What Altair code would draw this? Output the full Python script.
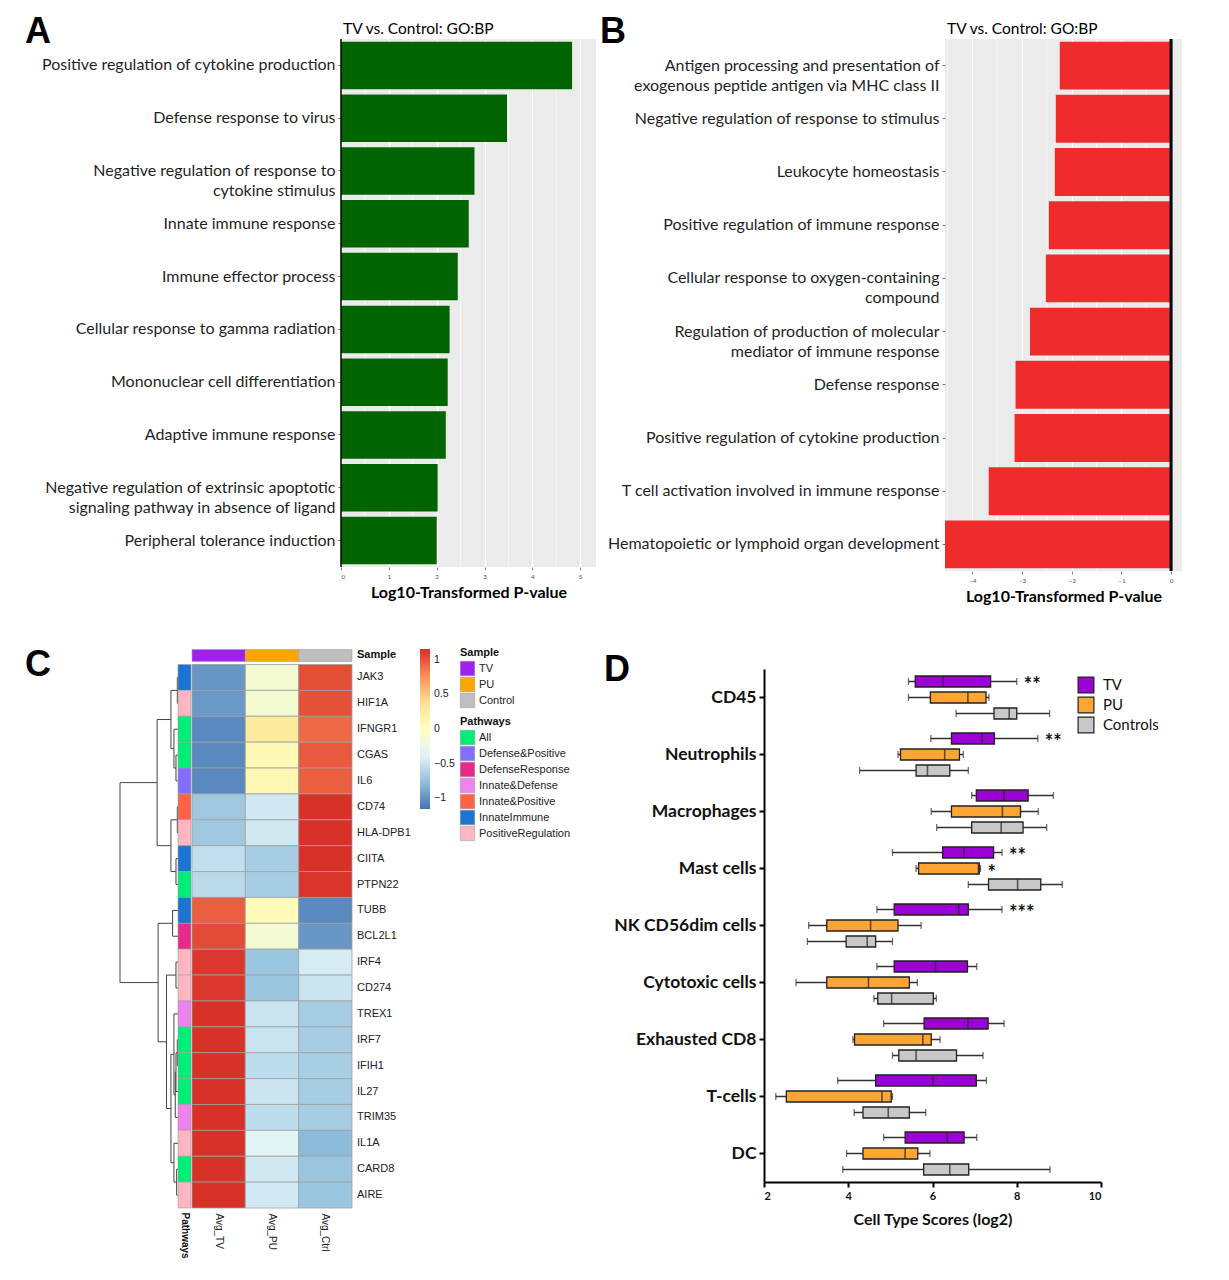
import altair as alt
import pandas as pd

FA = "Lato"
FC = "Liberation Sans"
FL = "Liberation Sans"

# ---------------- Panel A data ----------------
a_terms = [
    "Positive regulation of cytokine production",
    "Defense response to virus",
    "Negative regulation of response to|cytokine stimulus",
    "Innate immune response",
    "Immune effector process",
    "Cellular response to gamma radiation",
    "Mononuclear cell differentiation",
    "Adaptive immune response",
    "Negative regulation of extrinsic apoptotic|signaling pathway in absence of ligand",
    "Peripheral tolerance induction",
]
a_vals = [4.83, 3.47, 2.79, 2.67, 2.44, 2.27, 2.23, 2.19, 2.02, 2.00]
a_ticks = [0, 1, 2, 3, 4, 5]
a_minor = [0.5, 1.5, 2.5, 3.5, 4.5]

# ---------------- Panel B data ----------------
b_terms = [
    "Antigen processing and presentation of|exogenous peptide antigen via MHC class II",
    "Negative regulation of response to stimulus",
    "Leukocyte homeostasis",
    "Positive regulation of immune response",
    "Cellular response to oxygen-containing|compound",
    "Regulation of production of molecular|mediator of immune response",
    "Defense response",
    "Positive regulation of cytokine production",
    "T cell activation involved in immune response",
    "Hematopoietic or lymphoid organ development",
]
b_vals = [-2.24, -2.32, -2.34, -2.46, -2.52, -2.84, -3.13, -3.15, -3.67, -4.55]
b_ticks = [-4, -3, -2, -1, 0]
b_minor = [-4.5, -3.5, -2.5, -1.5, -0.5]
go_title = "TV vs. Control: GO:BP"

# ---------------- Panel C data ----------------
genes = ["JAK3", "HIF1A", "IFNGR1", "CGAS", "IL6", "CD74", "HLA-DPB1", "CIITA", "PTPN22",
         "TUBB", "BCL2L1", "IRF4", "CD274", "TREX1", "IRF7", "IFIH1", "IL27", "TRIM35",
         "IL1A", "CARD8", "AIRE"]
avg_tv = [-0.98, -0.97, -1.05, -1.05, -1.05, -0.70, -0.70, -0.53, -0.57, 0.96, 1.04,
          1.12, 1.12, 1.15, 1.15, 1.15, 1.15, 1.15, 1.15, 1.15, 1.15]
avg_pu = [-0.12, -0.12, 0.25, 0.07, 0.10, -0.47, -0.47, -0.67, -0.67, 0.05, -0.14,
          -0.72, -0.72, -0.49, -0.50, -0.55, -0.49, -0.55, -0.36, -0.47, -0.46]
avg_ctrl = [1.03, 1.02, 0.92, 0.98, 0.96, 1.15, 1.15, 1.15, 1.14, -1.05, -0.98,
            -0.44, -0.49, -0.67, -0.67, -0.66, -0.67, -0.67, -0.79, -0.72, -0.72]
pathway = ["InnateImmune", "PositiveRegulation", "All", "All", "Defense&Positive",
           "Innate&Positive", "PositiveRegulation", "InnateImmune", "All", "InnateImmune",
           "DefenseResponse", "PositiveRegulation", "PositiveRegulation", "Innate&Defense",
           "All", "All", "All", "Innate&Defense", "PositiveRegulation", "All",
           "PositiveRegulation"]
heat_cols = ["Avg_TV", "Avg_PU", "Avg_Ctrl"]
sample_groups = ["TV", "PU", "Control"]
sample_colors = ["#A020F0", "#FFA500", "#BEBEBE"]
pathway_names = ["All", "Defense&Positive", "DefenseResponse", "Innate&Defense",
                 "Innate&Positive", "InnateImmune", "PositiveRegulation"]
pathway_colors = ["#00EE76", "#836FFF", "#E7298A", "#EE82EE", "#FF6347", "#1C74D0", "#FFB6C1"]
heat_domain = [-1.155, -0.77, -0.385, 0.0, 0.385, 0.77, 1.155]
heat_range = ["#4575B4", "#91BFDB", "#E0F3F8", "#FFFFBF", "#FEE090", "#FC8D59", "#D73027"]
heat_legend_values = [-1, -0.5, 0, 0.5, 1]
# dendrogram merges (left, right, height)
dendro_merges = [
    ("JAK3", "HIF1A", 0.012), ("CGAS", "IL6", 0.035), ("IFNGR1", "n2", 0.07),
    ("n1", "n3", 0.122), ("CD74", "HLA-DPB1", 0.012), ("CIITA", "PTPN22", 0.035),
    ("n5", "n6", 0.122), ("n4", "n7", 0.36), ("TUBB", "BCL2L1", 0.093),
    ("IRF4", "CD274", 0.035), ("IRF7", "IFIH1", 0.012), ("n11", "IL27", 0.035),
    ("n12", "TRIM35", 0.047), ("TREX1", "n13", 0.07), ("CARD8", "AIRE", 0.023),
    ("IL1A", "n15", 0.07), ("n14", "n16", 0.122), ("n10", "n17", 0.198),
    ("n9", "n18", 0.343), ("n8", "n19", 1.0),
]

# ---------------- Panel D data ----------------
cell_types = ["CD45", "Neutrophils", "Macrophages", "Mast cells", "NK CD56dim cells",
              "Cytotoxic cells", "Exhausted CD8", "T-cells", "DC"]
groups = ["TV", "PU", "Controls"]
group_colors = ["#9B00D4", "#FFA533", "#C8C8C8"]
tv_min = [5.43, 5.96, 6.93, 5.05, 4.68, 4.68, 4.84, 3.75, 4.84]
tv_q1 = [5.59, 6.45, 7.04, 6.24, 5.09, 5.09, 5.80, 4.65, 5.35]
tv_med = [6.25, 7.18, 7.70, 6.75, 6.62, 6.07, 6.84, 6.01, 6.35]
tv_q3 = [7.38, 7.47, 8.27, 7.45, 6.85, 6.83, 7.32, 7.04, 6.75]
tv_max = [8.00, 8.50, 8.87, 7.65, 7.65, 7.05, 7.70, 7.28, 7.05]
pu_min = [5.43, 5.18, 5.97, 5.61, 3.06, 2.76, 4.11, 2.28, 3.96]
pu_q1 = [5.95, 5.24, 6.45, 5.67, 3.49, 3.49, 4.15, 2.53, 4.35]
pu_med = [6.84, 6.29, 7.66, 7.09, 4.53, 4.48, 5.77, 4.80, 5.35]
pu_q3 = [7.27, 6.64, 8.09, 7.11, 5.18, 5.45, 5.97, 5.02, 5.65]
pu_max = [7.34, 6.73, 8.51, 7.14, 5.73, 5.64, 6.18, 5.05, 5.94]
ct_min = [6.56, 4.27, 6.10, 6.85, 3.03, 4.61, 5.05, 4.14, 3.87]
ct_q1 = [7.46, 5.61, 6.93, 7.33, 3.95, 4.70, 5.20, 4.35, 5.79]
ct_med = [7.82, 5.88, 7.63, 8.02, 4.45, 5.03, 5.61, 4.95, 6.41]
ct_q3 = [8.00, 6.41, 8.15, 8.57, 4.65, 6.02, 6.57, 5.45, 6.86]
ct_max = [8.78, 6.85, 8.71, 9.08, 5.05, 6.09, 7.20, 5.84, 8.79]
star_cells = ["CD45", "Neutrophils", "Mast cells", "Mast cells", "NK CD56dim cells"]
star_groups = ["TV", "TV", "TV", "PU", "TV"]
star_text = ["**", "**", "**", "*", "***"]
d_ticks = [2, 4, 6, 8, 10]


def letter(ch, x, y):
    return alt.Chart(pd.DataFrame({"t": [ch]})).mark_text(
        fontSize=36, fontWeight="bold", font=FL, align="left", baseline="top", color="black"
    ).encode(text="t:N", x=alt.value(x), y=alt.value(y))


def panel_title(txt):
    return alt.Chart(pd.DataFrame({"t": [txt]})).mark_text(
        fontSize=15.5, font=FA, align="left", baseline="alphabetic", color="black"
    ).encode(text="t:N", x=alt.value(2), y=alt.value(-5))


def go_panel(terms, vals, ticks, minor, domain, color, zero_w, w, h, let, lx, ly):
    df = pd.DataFrame({"term": terms, "val": vals})
    xs = alt.Scale(domain=domain, nice=False, zero=False)
    xax = alt.Axis(values=ticks, format="d", grid=True, gridColor="white", gridWidth=1.2,
                   domain=False, tickColor="#888", tickSize=3, labelFontSize=6.5,
                   labelColor="#555", labelFont=FA, labelPadding=3,
                   title="Log10-Transformed P-value", titleFont=FA, titleFontSize=16,
                   titleFontWeight="bold", titleColor="black", titlePadding=5)
    yax = alt.Axis(title=None, labelExpr="split(datum.label, '|')", labelFontSize=16,
                   labelFont=FA, labelColor="#1f1f1f", labelLimit=440, labelLineHeight=20,
                   tickColor="#777", tickSize=3, domain=False, grid=False, labelPadding=3)
    minor_df = pd.DataFrame({"v": minor})
    mg = alt.Chart(minor_df).mark_rule(color="white", strokeWidth=0.6).encode(
        x=alt.X("v:Q", scale=xs, axis=xax))
    bars = alt.Chart(df).mark_bar(color=color).encode(
        x=alt.X("val:Q", scale=xs, axis=xax),
        y=alt.Y("term:N", sort=terms, scale=alt.Scale(paddingInner=0.1, paddingOuter=0.05),
                axis=yax))
    zero = alt.Chart(pd.DataFrame({"z": [0]})).mark_rule(color="black", strokeWidth=zero_w).encode(
        x=alt.X("z:Q", scale=xs, axis=xax))
    return alt.layer(mg, bars, zero, panel_title(go_title), letter(let, lx, ly)).properties(
        width=w, height=h,
        view=alt.ViewBackground(fill="#EBEBEB", stroke=None))


panelA = go_panel(a_terms, a_vals, a_ticks, a_minor, [0, 5.33], "#006400", 1.5, 255, 528, "A", -316, -24)
panelB = go_panel(b_terms, b_vals, b_ticks, b_minor, [-4.55, 0.22], "#EE2C2C", 3, 237, 532, "B", -345, -24)

# ---------------- Panel C ----------------
# The panel's origin is aligned with panel A's plot (shared first column), so the
# dendrogram, annotation and heatmap use scale ranges to the left of it.
heat_rows = []
for i, g in enumerate(genes):
    for col, arr in zip(heat_cols, [avg_tv, avg_pu, avg_ctrl]):
        heat_rows.append({"gene": g, "i": i, "col": col, "z": arr[i]})
dfH = pd.DataFrame(heat_rows)
dfS = pd.DataFrame({"col": heat_cols, "grp": sample_groups})
dfP = pd.DataFrame({"i": list(range(len(genes))), "pw": pathway, "lab": ["Pathways"] * len(genes)})
dfG = pd.DataFrame({"i": list(range(len(genes))), "gene": genes, "lab": ["g"] * len(genes)})

node_pos = {g: i + 0.5 for i, g in enumerate(genes)}
node_h = {g: 0.0 for g in genes}
segs = []
for k, (l, r, h) in enumerate(dendro_merges):
    for c in (l, r):
        segs.append({"h1": node_h[c], "h2": h, "p1": node_pos[c], "p2": node_pos[c]})
    segs.append({"h1": h, "h2": h, "p1": node_pos[l], "p2": node_pos[r]})
    node_pos[f"n{k + 1}"] = (node_pos[l] + node_pos[r]) / 2
    node_h[f"n{k + 1}"] = h
dfD = pd.DataFrame(segs)

yC_scale = alt.Scale(domain=[-0.6, 21], reverse=True, nice=False, zero=False)
yC_axis = alt.Axis(orient="right", title=None, labels=False, ticks=False, domain=False, grid=False)
heat_x_scale = alt.Scale(domain=heat_cols, range=[-149, 11], paddingInner=0, paddingOuter=0)
lab_x_scale = alt.Scale(domain=["g"], range=[15, 17], paddingInner=0, paddingOuter=0)

dendro = alt.Chart(dfD).mark_rule(color="#444", strokeWidth=1).encode(
    x=alt.X("h1:Q", scale=alt.Scale(domain=[1.0, 0.0], range=[-221, -163], nice=False, zero=False), axis=None),
    x2="h2:Q",
    y=alt.Y("p1:Q", scale=yC_scale, axis=yC_axis),
    y2="p2:Q")

legend_sym = dict(orient="none", symbolType="square", symbolSize=210, symbolStrokeColor="#999",
                  symbolStrokeWidth=0.5, labelFontSize=11, labelFont=FC, titleFontSize=11,
                  titleFont=FC, titleFontWeight="bold", labelColor="#222", titleColor="#111",
                  rowPadding=-2, titlePadding=3, labelOffset=4)

annot = alt.Chart(dfP).transform_calculate(i2="datum.i + 1").mark_rect(
    stroke="#a0a0a0", strokeWidth=0.6).encode(
    x=alt.X("lab:N", scale=alt.Scale(domain=["Pathways"], range=[-163, -150], paddingInner=0, paddingOuter=0),
            axis=alt.Axis(orient="bottom", title=None, labelAngle=90, labelFontWeight="bold",
                          labelFontSize=10, labelFont=FC, labelColor="#111", tickSize=0,
                          domain=False, labelPadding=4)),
    y=alt.Y("i:Q", scale=yC_scale, axis=yC_axis),
    y2="i2:Q",
    color=alt.Color("pw:N", scale=alt.Scale(domain=pathway_names, range=pathway_colors),
                    legend=alt.Legend(title="Pathways", legendX=119, legendY=67, **legend_sym)))

heat = alt.Chart(dfH).transform_calculate(i2="datum.i + 1").mark_rect(
    stroke="#a0a0a0", strokeWidth=0.8).encode(
    x=alt.X("col:N", sort=heat_cols, scale=heat_x_scale,
            axis=alt.Axis(orient="bottom", title=None, labelAngle=90, labelFontSize=10,
                          labelFont=FC, labelColor="#222", tickSize=0, domain=False,
                          labelPadding=5)),
    y=alt.Y("i:Q", scale=yC_scale, axis=yC_axis),
    y2="i2:Q",
    color=alt.Color("z:Q", scale=alt.Scale(domain=heat_domain, range=heat_range, interpolate="rgb"),
                    legend=alt.Legend(title=None, orient="none", legendX=79, legendY=0,
                                      direction="vertical", gradientLength=160,
                                      gradientThickness=10, values=heat_legend_values,
                                      format="~g", labelFontSize=10.5, labelFont=FC,
                                      labelColor="#222", gradientStrokeWidth=0, labelOffset=4)))

sample = alt.Chart(dfS).mark_rect(stroke="#a0a0a0", strokeWidth=0.6).encode(
    x=alt.X("col:N", sort=heat_cols, scale=heat_x_scale, axis=None),
    y=alt.datum(-0.58),
    y2=alt.datum(-0.12),
    color=alt.Color("grp:N", scale=alt.Scale(domain=sample_groups, range=sample_colors),
                    legend=alt.Legend(title="Sample", legendX=119, legendY=-2, **legend_sym)))

gene_labels = alt.Chart(dfG).transform_calculate(yc="datum.i + 0.5").mark_text(
    align="left", baseline="middle", fontSize=11, font=FC, color="#222").encode(
    x=alt.X("lab:N", scale=lab_x_scale, axis=None),
    y=alt.Y("yc:Q", scale=yC_scale, axis=yC_axis), text="gene:N")
sample_label = alt.Chart(pd.DataFrame({"t": ["Sample"], "yc": [-0.35], "lab": ["g"]})).mark_text(
    align="left", baseline="middle", fontSize=11, font=FC, fontWeight="bold", color="#111").encode(
    x=alt.X("lab:N", scale=lab_x_scale, axis=None),
    y=alt.Y("yc:Q", scale=yC_scale, axis=yC_axis), text="t:N")

panelC = alt.layer(dendro, annot, heat, sample, gene_labels, sample_label,
                   letter("C", -316, -1)).resolve_scale(
    x="independent", color="independent").properties(width=11, height=559)

# ---------------- Panel D ----------------
box_rows = []
for g, arrs in zip(groups, [(tv_min, tv_q1, tv_med, tv_q3, tv_max),
                            (pu_min, pu_q1, pu_med, pu_q3, pu_max),
                            (ct_min, ct_q1, ct_med, ct_q3, ct_max)]):
    for k, ct in enumerate(cell_types):
        box_rows.append({"cell": ct, "grp": g, "lo": arrs[0][k], "q1": arrs[1][k],
                         "med": arrs[2][k], "q3": arrs[3][k], "hi": arrs[4][k]})
dfBox = pd.DataFrame(box_rows)
dfStar = pd.DataFrame({"cell": star_cells, "grp": star_groups, "star": star_text}).merge(
    dfBox[["cell", "grp", "hi"]], on=["cell", "grp"])

xD_scale = alt.Scale(domain=[2, 10], nice=False, zero=False)
xD_axis = alt.Axis(values=d_ticks, format="d", grid=False, domainColor="black", domainWidth=2,
                   tickColor="black", tickWidth=2, tickSize=5, labelFontSize=11,
                   labelFontWeight="bold", labelFont=FA, labelColor="#111", labelPadding=3,
                   title="Cell Type Scores (log2)", titleFont=FA, titleFontSize=16,
                   titleFontWeight="bold", titleColor="#111", titlePadding=10)
yD = alt.Y("cell:N", sort=cell_types,
           scale=alt.Scale(domain=cell_types, range=[20, 533], paddingInner=0, paddingOuter=0),
           axis=alt.Axis(title=None, labelFontSize=17.5, labelFontWeight="bold", labelFont=FA,
                         labelColor="#111", tickSize=5, tickWidth=2, tickColor="black",
                         domainWidth=2, domainColor="black", labelPadding=3, grid=False))
yoD = alt.YOffset("grp:N", sort=groups, scale=alt.Scale(domain=groups, paddingInner=0, paddingOuter=0.28))

baseD = alt.Chart(dfBox)
whisk = baseD.mark_rule(color="#333", strokeWidth=1.3).encode(
    x=alt.X("lo:Q", scale=xD_scale, axis=xD_axis), x2="hi:Q", y=yD, yOffset=yoD)
cap_lo = baseD.mark_tick(color="#333", thickness=1.3, size=7).encode(
    x=alt.X("lo:Q", scale=xD_scale, axis=xD_axis), y=yD, yOffset=yoD)
cap_hi = baseD.mark_tick(color="#333", thickness=1.3, size=7).encode(
    x=alt.X("hi:Q", scale=xD_scale, axis=xD_axis), y=yD, yOffset=yoD)
boxes = baseD.mark_bar(size=11, stroke="#222", strokeWidth=1.3).encode(
    x=alt.X("q1:Q", scale=xD_scale, axis=xD_axis), x2="q3:Q", y=yD, yOffset=yoD,
    color=alt.Color("grp:N", sort=groups, scale=alt.Scale(domain=groups, range=group_colors),
                    legend=alt.Legend(title=None, orient="none", legendX=313, legendY=27,
                                      symbolType="square", symbolSize=250,
                                      symbolStrokeColor="#222", symbolStrokeWidth=1.2,
                                      labelFontSize=15, labelFont=FA, labelColor="#111",
                                      rowPadding=-2, labelOffset=8)))
meds = baseD.mark_tick(color="#222", thickness=1.6, size=11).encode(
    x=alt.X("med:Q", scale=xD_scale, axis=xD_axis), y=yD, yOffset=yoD)
stars = alt.Chart(dfStar).mark_text(align="left", baseline="middle", dx=7, dy=5, fontSize=20,
                                    fontWeight="bold", font=FA, color="#111").encode(
    x=alt.X("hi:Q", scale=xD_scale, axis=xD_axis), y=yD, yOffset=yoD, text="star:N")

panelD = alt.layer(whisk, cap_lo, cap_hi, boxes, meds, stars, letter("D", -160, 4)).properties(
    width=337, height=533, view=alt.ViewBackground(stroke=None))

chart = alt.vconcat(
    alt.hconcat(panelA, panelB, spacing=4).resolve_scale(color="independent"),
    alt.hconcat(panelC, panelD, spacing=33).resolve_scale(color="independent"),
    spacing=42,
).resolve_scale(color="independent").properties(
    padding={"left": 17, "top": 6, "right": 2, "bottom": 2}
).configure_view(stroke=None)

chart.save("out.html", embed_options={"renderer": "svg", "actions": False})
